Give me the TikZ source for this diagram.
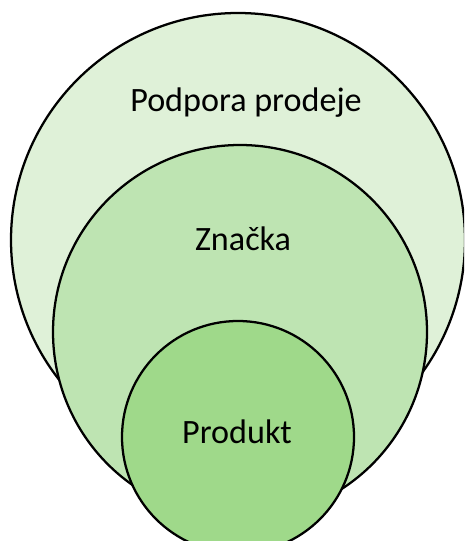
\documentclass[tikz,border=0pt]{standalone}
\usepackage{fontspec}
\setmainfont{Carlito}
\usepackage{tikz}
\usetikzlibrary{positioning}

\definecolor{outergreen}{RGB}{223,241,216}
\definecolor{midgreen}{RGB}{190,228,178}
\definecolor{innergreen}{RGB}{159,217,138}

\begin{document}
\begin{tikzpicture}[x=0.75pt,y=-0.75pt,
                    ring/.style={circle,draw=black,line width=1.7pt,inner sep=0pt},
                    ring text/.style={anchor=base,font=\fontsize{25.6}{30}\selectfont}]

  \useasboundingbox (0,0) rectangle (464,541);
  \clip (0,0) rectangle (464,541);

  \node[ring,fill=outergreen,minimum size=340.5pt] (podpora) at (238,240) {};
  \node[ring,fill=midgreen,minimum size=280.5pt] (znacka) at (240,332) {};
  \node[ring,fill=innergreen,minimum size=174pt] (produkt) at (238,437) {};

  \node[ring text] (podpora text) at (246,112) {Podpora prodeje};
  \node[ring text] (znacka text) at (243,250) {Značka};
  \node[ring text] (produkt text) at (237,443) {Produkt};
\end{tikzpicture}
\end{document}
